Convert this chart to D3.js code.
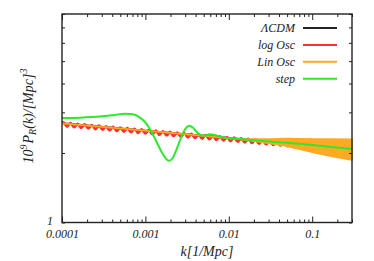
<!DOCTYPE html>
<html>
<head>
<meta charset="utf-8">
<script src="https://cdn.jsdelivr.net/npm/d3@7"></script>
<style>
  body { margin: 0; background: #fff; }
  svg text { font-family: 'Liberation Serif', 'DejaVu Serif', serif; font-style: italic; fill: #222; }
</style>
</head>
<body>
<svg width="374" height="261"></svg>
<script>
var width = 374;
var height = 261;
var margin = {top: 14, right: 22, bottom: 38.5, left: 62};

// LambdaCDM power spectrum
var lcdmK = [1e-4, 1e-3, 1e-2, 0.1, 0.3];
var lcdmP = [2.69, 2.50, 2.32, 2.15, 2.08];

// log oscillations (start, then trough/peak pairs)
var logOscK = [
  1.000e-4, 1.041e-4, 1.148e-4, 1.266e-4, 1.397e-4, 1.541e-4, 1.700e-4, 1.875e-4,
  2.069e-4, 2.282e-4, 2.518e-4, 2.778e-4, 3.064e-4, 3.380e-4, 3.728e-4, 4.112e-4,
  4.537e-4, 5.005e-4, 5.523e-4, 6.092e-4, 6.721e-4, 7.414e-4, 8.179e-4, 9.022e-4,
  9.954e-4, 1.098e-3, 1.211e-3, 1.336e-3, 1.474e-3, 1.626e-3, 1.794e-3, 1.979e-3,
  2.183e-3, 2.408e-3, 2.657e-3, 2.931e-3, 3.233e-3, 3.566e-3, 3.935e-3, 4.341e-3,
  4.788e-3, 5.282e-3, 5.827e-3, 6.428e-3, 7.091e-3, 7.822e-3, 8.629e-3, 9.519e-3,
  1.050e-2, 1.158e-2, 1.278e-2, 1.410e-2, 1.555e-2, 1.715e-2, 1.892e-2, 2.087e-2,
  2.303e-2, 2.540e-2, 2.803e-2, 3.092e-2, 3.411e-2, 3.763e-2, 4.151e-2, 4.579e-2,
  5.051e-2, 5.572e-2, 6.147e-2, 6.781e-2, 7.481e-2, 8.252e-2, 9.104e-2, 0.1004,
  0.1108, 0.1222, 0.1348, 0.1487, 0.1641, 0.1810, 0.1997, 0.2203,
  0.2430, 0.2681, 0.2957, 0.3
];
var logOscP = [
  2.710, 2.714, 2.603, 2.697, 2.587, 2.679, 2.571, 2.662,
  2.554, 2.646, 2.538, 2.629, 2.522, 2.613, 2.506, 2.596,
  2.491, 2.579, 2.475, 2.564, 2.459, 2.548, 2.444, 2.531,
  2.428, 2.515, 2.413, 2.499, 2.398, 2.484, 2.383, 2.468,
  2.368, 2.453, 2.353, 2.437, 2.338, 2.422, 2.323, 2.406,
  2.309, 2.392, 2.294, 2.377, 2.280, 2.361, 2.265, 2.346,
  2.251, 2.331, 2.237, 2.317, 2.223, 2.303, 2.209, 2.288,
  2.195, 2.273, 2.181, 2.259, 2.167, 2.245, 2.154, 2.231,
  2.140, 2.217, 2.127, 2.203, 2.113, 2.189, 2.100, 2.175,
  2.087, 2.161, 2.074, 2.147, 2.061, 2.135, 2.048, 2.121,
  2.035, 2.107, 2.022, 2.025
];

// linear oscillations: envelope of the fast oscillation
var linOscK = [1e-4, 1e-3, 1e-2, 1.354e-2, 2.048e-2, 3.097e-2, 4.685e-2, 7.085e-2, 0.1071, 0.162, 0.3];
var linOscHi = [2.69, 2.50, 2.32, 2.298, 2.299, 2.299, 2.306, 2.303, 2.299, 2.294, 2.292];
var linOscLo = [2.69, 2.50, 2.32, 2.298, 2.253, 2.204, 2.154, 2.081, 2.009, 1.944, 1.868];

// step feature
var stepK = [1e-4, 1.643e-4, 2.852e-4, 4.312e-4, 5.681e-4, 7.085e-4, 8.594e-4, 1.014e-3,
  1.196e-3, 1.373e-3, 1.576e-3, 1.760e-3, 1.911e-3, 2.106e-3, 2.384e-3, 2.736e-3,
  3.055e-3, 3.365e-3, 3.706e-3, 4.139e-3, 4.622e-3, 5.160e-3, 5.922e-3, 6.797e-3,
  7.803e-3, 1.354e-2, 7.085e-2, 0.3];
var stepP = [2.834, 2.845, 2.876, 2.925, 2.961, 2.943, 2.848, 2.697,
  2.453, 2.220, 2.009, 1.893, 1.850, 1.893, 2.091, 2.380,
  2.566, 2.623, 2.578, 2.465, 2.387, 2.380, 2.409, 2.392,
  2.354, 2.298, 2.191, 2.08];

var xMajor = [1e-4, 1e-3, 1e-2, 1e-1];
var xTickLabels = ['0.0001', '0.001', '0.01', '0.1'];
var yTicks = [1, 2, 3, 4, 5, 6, 7, 8];
var yTickLabels = ['1', '', '', '', '', '', '', ''];

var legendNames = ['\u039BCDM', 'log Osc', 'Lin Osc', 'step'];
var colors = ['#222222', '#ff3030', '#ffaa22', '#2ee82e'];

// scales
var xScale = d3.scaleLog().domain([1e-4, 0.3]).range([margin.left, width - margin.right]);
var yScale = d3.scaleLog().domain([1, 8]).range([height - margin.bottom, margin.top]);

var xMinor = [];
xMajor.forEach(d => {
  for (var m = 2; m <= 9; m++) if (m * d <= 0.3 + 1e-9) xMinor.push(m * d);
});

var svg = d3.select('svg');

function zip(ks, ps) { return ks.map((k, i) => [k, ps[i]]); }

var line = d3.line().x(d => xScale(d[0])).y(d => yScale(d[1]));
var smooth = d3.line().curve(d3.curveMonotoneX).x(d => xScale(d[0])).y(d => yScale(d[1]));

var plot = svg.append('g');

plot.append('path').datum(zip(lcdmK, lcdmP))
  .attr('d', line).attr('fill', 'none').attr('stroke', colors[0]).attr('stroke-width', 2);

plot.append('path').datum(zip(logOscK, logOscP))
  .attr('d', smooth).attr('fill', 'none').attr('stroke', colors[1]).attr('stroke-width', 2.6);

var band = d3.area()
  .x((d, i) => xScale(linOscK[i]))
  .y0((d, i) => yScale(linOscLo[i]))
  .y1((d, i) => yScale(linOscHi[i]));
plot.append('path').datum(linOscK)
  .attr('d', band).attr('fill', colors[2]).attr('stroke', colors[2]).attr('stroke-width', 1.8);

plot.append('path').datum(zip(stepK, stepP))
  .attr('d', smooth).attr('fill', 'none').attr('stroke', colors[3]).attr('stroke-width', 2);

// axes ------------------------------------------------------------------
var fmtX = d => xTickLabels[xMajor.indexOf(d)];
var fmtY = d => yTickLabels[yTicks.indexOf(d)];

var gx = svg.append('g').attr('transform', 'translate(0,' + (height - margin.bottom) + ')');
gx.call(d3.axisBottom(xScale).tickValues(xMajor).tickSize(-6).tickPadding(7).tickFormat(fmtX));
gx.append('g').call(d3.axisBottom(xScale).tickValues(xMinor).tickSize(-3).tickFormat(''));

var gxt = svg.append('g').attr('transform', 'translate(0,' + margin.top + ')');
gxt.call(d3.axisTop(xScale).tickValues(xMajor).tickSize(-6).tickFormat(''));
gxt.append('g').call(d3.axisTop(xScale).tickValues(xMinor).tickSize(-3).tickFormat(''));

var gy = svg.append('g').attr('transform', 'translate(' + margin.left + ',0)');
gy.call(d3.axisLeft(yScale).tickValues(yTicks).tickSize(-3).tickPadding(9).tickFormat(fmtY));
gy.selectAll('.tick text').attr('dy', '0.2em');

var gyr = svg.append('g').attr('transform', 'translate(' + (width - margin.right) + ',0)');
gyr.call(d3.axisRight(yScale).tickValues(yTicks).tickSize(-3).tickFormat(''));

svg.selectAll('.domain').remove();
svg.selectAll('.tick line').attr('stroke', '#222').attr('stroke-width', 1);
svg.selectAll('.tick text').attr('font-size', 12).attr('font-family', null);

svg.append('rect')
  .attr('x', margin.left).attr('y', margin.top)
  .attr('width', width - margin.left - margin.right)
  .attr('height', height - margin.top - margin.bottom)
  .attr('fill', 'none').attr('stroke', '#222').attr('stroke-width', 1.4);

// axis titles
svg.append('text')
  .attr('x', (margin.left + width - margin.right) / 2).attr('y', 256)
  .attr('text-anchor', 'middle').attr('font-size', 14)
  .text('k[1/Mpc]');

var yl = svg.append('text')
  .attr('transform', 'translate(33,116) rotate(-90)')
  .attr('text-anchor', 'middle').attr('font-size', 14);
yl.append('tspan').text('10');
yl.append('tspan').attr('dy', -6).attr('font-size', 10).text('9');
yl.append('tspan').attr('dy', 6).attr('dx', 1).text('P');
yl.append('tspan').attr('dy', 3).attr('font-size', 10).text('R');
yl.append('tspan').attr('dy', -3).text('(k)/[Mpc]');
yl.append('tspan').attr('dy', -6).attr('font-size', 10).text('3');

// legend
var lg = svg.append('g');
legendNames.forEach((name, i) => {
  var yy = 28 + i * 16.9;
  lg.append('text').attr('x', 295).attr('y', yy + 4)
    .attr('text-anchor', 'end').attr('font-size', 12).text(name);
  lg.append('line').attr('x1', 303).attr('x2', 337).attr('y1', yy).attr('y2', yy)
    .attr('stroke', colors[i]).attr('stroke-width', 2);
});
</script>
</body>
</html>
